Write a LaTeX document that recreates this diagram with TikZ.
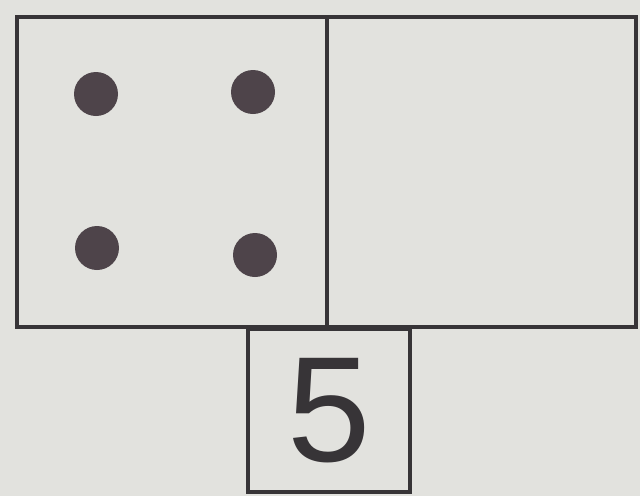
\documentclass[tikz,border=0pt]{standalone}
\usepackage{fontspec}
\setmainfont{Liberation Sans}
\definecolor{paper}{RGB}{226,226,222}
\definecolor{ink}{RGB}{55,52,55}
\definecolor{dot}{RGB}{78,68,74}
\begin{document}
\begin{tikzpicture}[x=1pt,y=-1pt,
  boxline/.style={draw=ink,line width=3.5pt},
  pip/.style={circle,fill=dot,minimum size=44pt,inner sep=0pt}]
\fill[paper] (0,0) rectangle (640,496);
\useasboundingbox (0,0) rectangle (640,496);
\node[boxline,minimum width=310pt,minimum height=310pt,inner sep=0pt] (left) at (172,172) {};
\node[boxline,minimum width=309pt,minimum height=310pt,inner sep=0pt] (right) at (481.5,172) {};
\node[boxline,minimum width=162pt,minimum height=163pt,inner sep=0pt,anchor=north,
  font=\fontsize{150}{150}\selectfont,text=ink] (num) at (329,327) {5};
\node[pip] (p1) at (96,94) {};
\node[pip] (p2) at (253,92) {};
\node[pip] (p3) at (97,248) {};
\node[pip] (p4) at (255,255) {};
\end{tikzpicture}
\end{document}
